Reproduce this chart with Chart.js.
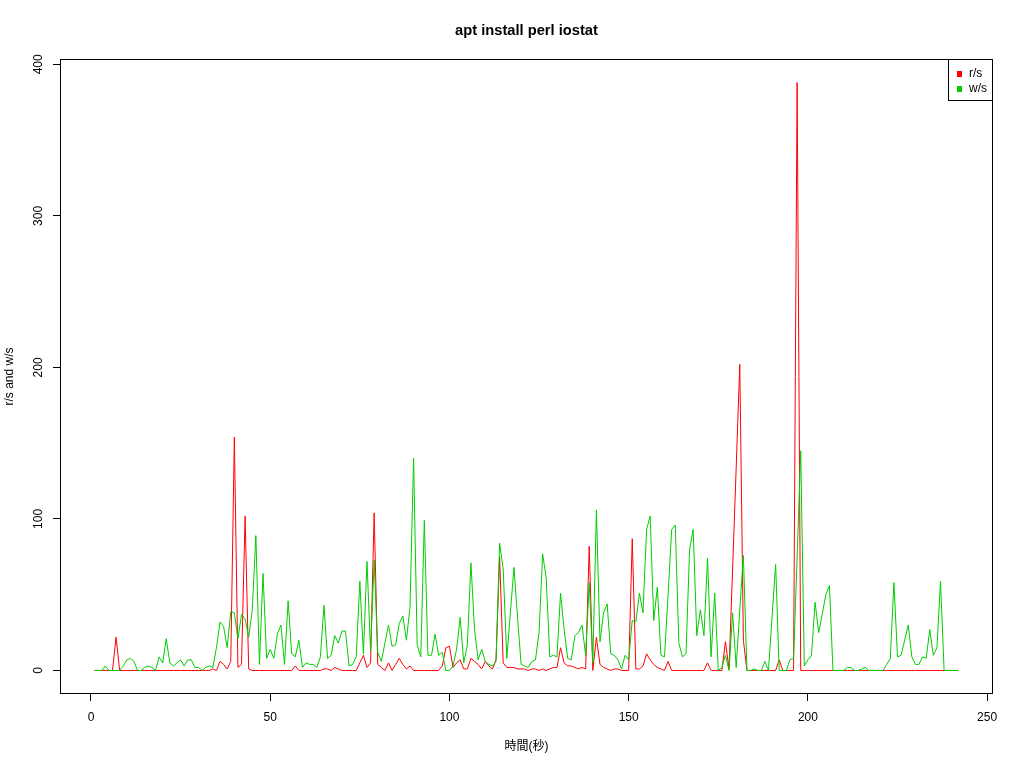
<!DOCTYPE html>
<html>
<head>
<meta charset="utf-8">
<title>apt install perl iostat</title>
<script src="https://cdn.jsdelivr.net/npm/chart.js@4.4.1/dist/chart.umd.min.js"></script>
<style>
  html, body { margin: 0; padding: 0; background: #fff; }
  #wrap { width: 1024px; height: 768px; }
</style>
</head>
<body>
<div id="wrap"><canvas id="chart" width="1024" height="768"></canvas></div>
<script>
/* ===== DATA (one value per second, t = 1..242) ===== */
const TITLE = 'apt install perl iostat';
const X_LABEL = '時間(秒)';
const Y_LABEL = 'r/s and w/s';
const SERIES_NAMES = ['r/s', 'w/s'];
const SERIES_COLORS = ['#ff0000', '#00cd00'];
const X_TICKS = [0, 50, 100, 150, 200, 250];
const Y_TICKS = [0, 100, 200, 300, 400];

const readsPerSec = [
  0, 0, 0, 0, 0, 0, 22, 0, 0, 0,
  0, 0, 0, 0, 0, 0, 0, 0, 0, 0,
  0, 0, 0, 0, 0, 0, 0, 0, 0, 0,
  0, 0, 0, 1, 0, 6, 4, 1, 6, 154,
  2, 4, 102, 1, 0, 0, 0, 0, 0, 0,
  0, 0, 0, 0, 0, 0, 3, 0, 0, 0,
  0, 0, 0, 0, 1, 1, 0, 2, 1, 0,
  0, 0, 0, 0, 5, 10, 2, 5, 104, 4,
  2, 0, 5, 0, 4, 8, 4, 1, 3, 0,
  0, 0, 0, 0, 0, 0, 0, 3, 15, 16,
  2, 5, 7, 1, 1, 8, 6, 4, 1, 6,
  3, 1, 7, 75, 5, 2, 2, 2, 1, 1,
  1, 0, 1, 1, 0, 1, 0, 1, 2, 2,
  15, 5, 3, 3, 2, 1, 2, 1, 82, 0,
  22, 4, 2, 1, 0, 1, 1, 0, 0, 0,
  87, 1, 1, 3, 11, 7, 4, 2, 1, 0,
  6, 0, 0, 0, 0, 0, 0, 0, 0, 0,
  0, 5, 0, 0, 0, 0, 19, 1, 67, 134,
  202, 20, 0, 0, 0, 0, 0, 0, 0, 0,
  0, 7, 0, 0, 0, 0, 388, 0, 0, 0,
  0, 0, 0, 0, 0, 0, 0, 0, 0, 0,
  0, 0, 0, 0, 0, 0, 0, 0, 0, 0,
  0, 0, 0, 0, 0, 0, 0, 0, 0, 0,
  0, 0, 0, 0, 0, 0, 0, 0, 0, 0,
  0, 0
];

const writesPerSec = [
  0, 0, 0, 3, 0, 0, 0, 0, 3, 7,
  8, 6, 0, 0, 2, 3, 2, 0, 9, 5,
  21, 5, 3, 5, 7, 3, 7, 7, 2, 2,
  0, 2, 3, 2, 15, 32, 29, 15, 39, 38,
  21, 37, 34, 22, 40, 89, 4, 64, 8, 14,
  8, 24, 30, 4, 46, 11, 9, 20, 2, 5,
  4, 4, 2, 9, 43, 8, 10, 23, 18, 26,
  26, 3, 4, 9, 59, 11, 72, 13, 73, 12,
  6, 18, 30, 16, 17, 31, 36, 20, 42, 140,
  17, 9, 99, 10, 10, 24, 10, 12, 0, 0,
  3, 14, 35, 5, 17, 71, 27, 7, 14, 6,
  4, 3, 6, 84, 67, 8, 38, 68, 35, 4,
  3, 2, 6, 7, 25, 77, 61, 9, 10, 9,
  51, 27, 8, 7, 23, 25, 30, 10, 58, 5,
  106, 19, 38, 44, 11, 10, 7, 1, 10, 7,
  33, 32, 51, 38, 93, 102, 33, 55, 10, 9,
  50, 93, 96, 18, 9, 11, 80, 93, 23, 40,
  23, 74, 9, 51, 0, 2, 10, 0, 38, 2,
  40, 76, 0, 0, 1, 0, 0, 6, 0, 35,
  70, 0, 0, 0, 7, 8, 75, 145, 3, 7,
  10, 45, 25, 37, 50, 56, 0, 0, 0, 0,
  2, 2, 0, 0, 1, 2, 0, 0, 0, 0,
  0, 4, 8, 58, 9, 10, 20, 30, 9, 4,
  4, 9, 8, 27, 10, 15, 59, 0, 0, 0,
  0, 0
];

// sample index (seconds)
const seconds = readsPerSec.map((_, i) => i + 1);

/* ===== LAYOUT (R-like plot region) ===== */
const FONT = "'Liberation Sans', Arial, Helvetica, sans-serif";
const PLOT = { left: 60, top: 59, right: 993, bottom: 694 };

// R pads axis ranges by 4%
const xRange = [Math.min(...seconds), Math.max(...seconds)];
const yMax = Math.max(...readsPerSec, ...writesPerSec);
const xPad = (xRange[1] - xRange[0]) * 0.04;
const yPad = yMax * 0.04;

Chart.defaults.font.family = FONT;
Chart.defaults.font.size = 12;
Chart.defaults.color = '#000';

/* ===== PLUGINS ===== */
const frameAndTitle = {
  id: 'frameAndTitle',
  afterDraw(chart) {
    const { ctx, chartArea: a } = chart;
    ctx.save();
    ctx.strokeStyle = '#000';
    ctx.lineWidth = 1;
    ctx.strokeRect(a.left + 0.5, a.top + 0.5, a.right - a.left - 1, a.bottom - a.top - 1);

    ctx.fillStyle = '#000';
    ctx.font = `bold 14.7px ${FONT}`;
    ctx.textAlign = 'center';
    ctx.textBaseline = 'middle';
    ctx.fillText(TITLE, (a.left + a.right) / 2, 31);
    ctx.restore();
  }
};

const legendBox = {
  id: 'legendBox',
  afterDraw(chart) {
    const { ctx, chartArea: a } = chart;
    const w = 45, h = 42;
    const x = a.right - w, y = a.top;
    ctx.save();
    ctx.fillStyle = '#fff';
    ctx.fillRect(x, y, w, h);
    ctx.strokeStyle = '#000';
    ctx.lineWidth = 1;
    ctx.strokeRect(x + 0.5, y + 0.5, w - 1, h - 1);
    ctx.font = `12px ${FONT}`;
    ctx.textBaseline = 'middle';
    ctx.textAlign = 'left';
    chart.data.datasets.forEach((ds, i) => {
      const cy = y + 15 + i * 15;
      ctx.fillStyle = ds.borderColor;
      ctx.fillRect(x + 9, cy - 3, 5, 6);
      ctx.fillStyle = '#000';
      ctx.fillText(ds.label, x + 21, cy);
    });
    ctx.restore();
  }
};

/* ===== CHART ===== */
new Chart(document.getElementById('chart'), {
  type: 'line',
  data: {
    labels: seconds,
    datasets: [
      { label: SERIES_NAMES[0], data: readsPerSec, borderColor: SERIES_COLORS[0], order: 2 },
      { label: SERIES_NAMES[1], data: writesPerSec, borderColor: SERIES_COLORS[1], order: 1 },
    ],
  },
  options: {
    responsive: false,
    animation: false,
    layout: { padding: { top: PLOT.top, right: 1024 - PLOT.right, left: 0, bottom: 0 } },
    elements: {
      line: { borderWidth: 1, tension: 0, fill: false },
      point: { radius: 0, hoverRadius: 0 },
    },
    plugins: {
      legend: { display: false },
      tooltip: { enabled: false },
      title: { display: false },
    },
    scales: {
      x: {
        type: 'linear',
        min: xRange[0] - xPad,
        max: xRange[1] + xPad,
        afterBuildTicks(scale) { scale.ticks = X_TICKS.map(v => ({ value: v })); },
        afterFit(scale) { scale.height = 768 - PLOT.bottom; },
        grid: { display: true, drawOnChartArea: false, tickLength: 7, tickColor: '#000', color: '#000' },
        border: { display: false },
        ticks: { padding: 9, color: '#000', maxRotation: 0, minRotation: 0 },
        title: { display: true, text: X_LABEL, color: '#000', padding: { top: 0, bottom: 14 },
                 font: { family: "'Liberation Sans', 'Noto Sans CJK JP', sans-serif", size: 12 } },
      },
      y: {
        min: -yPad,
        max: yMax + yPad,
        afterBuildTicks(scale) { scale.ticks = Y_TICKS.map(v => ({ value: v })); },
        afterFit(scale) { scale.width = PLOT.left; },
        grid: { display: true, drawOnChartArea: false, tickLength: 7, tickColor: '#000', color: '#000' },
        border: { display: false },
        ticks: { padding: 4, color: '#000', minRotation: 90, maxRotation: 90, crossAlign: 'center' },
        title: { display: true, text: Y_LABEL, color: '#000', padding: { top: 2, bottom: 0 } },
      },
    },
  },
  plugins: [frameAndTitle, legendBox],
});
</script>
</body>
</html>
